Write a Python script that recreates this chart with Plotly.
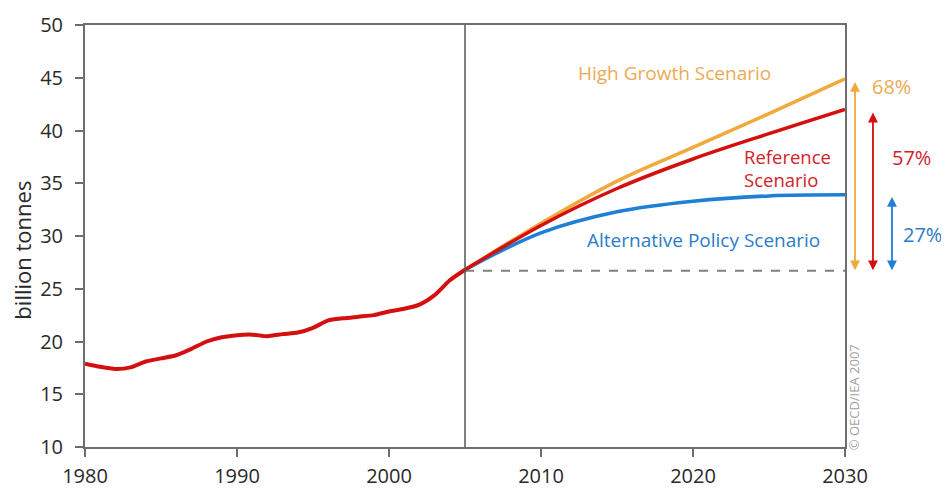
import plotly.graph_objects as go

# ---- data ----
hist_years = list(range(1980, 2006))
hist_values = [17.9, 17.6, 17.4, 17.55, 18.1, 18.4, 18.7, 19.3, 20.0, 20.4,
               20.6, 20.65, 20.5, 20.7, 20.85, 21.3, 22.0, 22.2, 22.35, 22.5,
               22.85, 23.1, 23.5, 24.4, 25.8, 26.8]
proj_years = [2005, 2010, 2015, 2020, 2025, 2030]
reference_proj = [26.8, 31.0, 34.5, 37.3, 39.7, 42.0]
high_growth_proj = [26.8, 31.2, 35.2, 38.4, 41.6, 44.9]
alt_policy_proj = [26.8, 30.3, 32.3, 33.3, 33.8, 33.9]
base_2005 = 26.7
pct_labels = ["68%", "57%", "27%"]

C_ORANGE = "#F2A93B"
C_RED = "#D40F0F"
C_BLUE = "#1F7FD6"
C_ORANGE_T = "#EDAA55"
C_RED_T = "#D2232A"
C_BLUE_T = "#2A7CC9"
FONT = "Open Sans, Noto Sans, sans-serif"

fig = go.Figure()
fig.add_trace(go.Scatter(x=[2005, 2030], y=[base_2005, base_2005], mode="lines",
                         line=dict(color="#808080", width=2, dash="dash"),
                         hoverinfo="skip", showlegend=False))
fig.add_trace(go.Scatter(x=proj_years, y=high_growth_proj, mode="lines",
                         line=dict(color=C_ORANGE, width=3.5, shape="spline"),
                         showlegend=False))
fig.add_trace(go.Scatter(x=proj_years, y=alt_policy_proj, mode="lines",
                         line=dict(color=C_BLUE, width=3.5, shape="spline"),
                         showlegend=False))
fig.add_trace(go.Scatter(x=proj_years, y=reference_proj, mode="lines",
                         line=dict(color=C_RED, width=3.5, shape="spline"),
                         showlegend=False))
fig.add_trace(go.Scatter(x=hist_years, y=hist_values, mode="lines",
                         line=dict(color=C_RED, width=4, shape="spline", smoothing=0.6),
                         showlegend=False))

# vertical divider at 2005
fig.add_shape(type="line", x0=2005, x1=2005, y0=0, y1=1, xref="x", yref="paper",
              line=dict(color="#555555", width=1.5))

# arrows
arrow_x = [1.0132, 1.0368, 1.0618]
arrow_top = [high_growth_proj[-1] - 0.3, reference_proj[-1] - 0.3, alt_policy_proj[-1] - 0.2]
arrow_col = [C_ORANGE, C_RED, C_BLUE]
for xp, yt, c in zip(arrow_x, arrow_top, arrow_col):
    fig.add_annotation(x=xp, y=yt, xref="x domain", yref="y",
                       ax=xp, ay=base_2005 - 0.1, axref="x domain", ayref="y",
                       text="", showarrow=True, arrowside="end+start",
                       arrowhead=2, arrowsize=1.1, arrowwidth=1.8, arrowcolor=c)

# percentage labels
pct_x = [1.0618, 1.088, 1.1026]
pct_y = [44.2, 37.4, 30.1]
pct_col = [C_ORANGE_T, C_RED_T, C_BLUE_T]
for t, xp, yp, c in zip(pct_labels, pct_x, pct_y, pct_col):
    fig.add_annotation(x=xp, y=yp, xref="x domain", yref="y", text=t, showarrow=False,
                       xanchor="center", yanchor="middle",
                       font=dict(family=FONT, size=20, color=c))

# scenario labels
fig.add_annotation(x=2018.8, y=45.45, text="High Growth Scenario", showarrow=False,
                   xanchor="center", yanchor="middle",
                   font=dict(family=FONT, size=19, color=C_ORANGE_T))
fig.add_annotation(x=2023.3, y=37.58, text="Reference", showarrow=False,
                   xanchor="left", yanchor="middle", borderpad=0,
                   font=dict(family=FONT, size=18.5, color=C_RED_T))
fig.add_annotation(x=2023.3, y=35.4, text="Scenario", showarrow=False,
                   xanchor="left", yanchor="middle", borderpad=0,
                   font=dict(family=FONT, size=18.5, color=C_RED_T))
fig.add_annotation(x=2020.7, y=29.6, text="Alternative Policy Scenario", showarrow=False,
                   xanchor="center", yanchor="middle",
                   font=dict(family=FONT, size=19, color=C_BLUE_T))

# y-axis title (as an annotation so it sits where the reference puts it)
fig.add_annotation(x=-0.083, y=28.7, xref="x domain", yref="y", text="billion tonnes",
                   showarrow=False, textangle=-90, xanchor="center", yanchor="middle",
                   borderpad=0, font=dict(family=FONT, size=22, color="#2a2a2a"))

# copyright
fig.add_annotation(x=1.013, y=14.7, xref="x domain", yref="y", text="© OECD/IEA 2007",
                   showarrow=False, textangle=-90, xanchor="center", yanchor="middle",
                   font=dict(family=FONT, size=13, color="#a0a0a0"))

# page has an 8px body margin: figure is sized so the plot area lands where the reference has it
fig.update_layout(
    width=941, height=481,
    margin=dict(l=77, r=104, t=17, b=42, autoexpand=False),
    paper_bgcolor="white", plot_bgcolor="white",
    font=dict(family=FONT, color="#333333"),
    xaxis=dict(range=[1980, 2030], tickvals=[1980, 1990, 2000, 2010, 2020, 2030],
               showgrid=False, zeroline=False, showline=True, linecolor="#6e6e6e",
               linewidth=2, mirror=True, ticks="outside", ticklen=8, tickwidth=1.5,
               tickcolor="#6e6e6e", ticklabelstandoff=2, automargin=False,
               tickfont=dict(size=20, color="#2a2a2a")),
    yaxis=dict(range=[10, 50], tickvals=list(range(10, 51, 5)),
               showgrid=False, zeroline=False, showline=True, linecolor="#6e6e6e",
               linewidth=2, mirror=True, ticks="outside", ticklen=8, tickwidth=1.5,
               tickcolor="#6e6e6e", ticklabelstandoff=8, automargin=False,
               tickfont=dict(size=20, color="#2a2a2a")),
)

fig.write_html("out.html")
